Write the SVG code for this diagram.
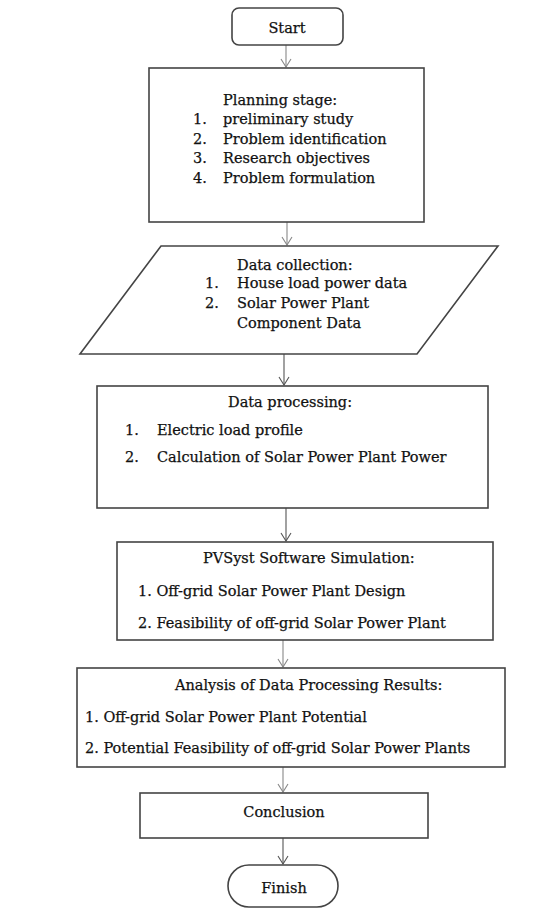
<svg xmlns="http://www.w3.org/2000/svg" width="550" height="909" viewBox="0 0 550 909">
<defs>
<marker id="arr" markerWidth="10" markerHeight="12" refX="9" refY="6" orient="auto" markerUnits="userSpaceOnUse" viewBox="0 0 10 12">
<path d="M1,1 L9,6 L1,11" fill="none" stroke="#555" stroke-width="1.1"/>
</marker>
<marker id="arrd" markerWidth="10" markerHeight="12" refX="9" refY="6" orient="auto" markerUnits="userSpaceOnUse" viewBox="0 0 10 12">
<path d="M1,1 L9,6 L1,11" fill="none" stroke="#888" stroke-width="1.1"/>
</marker>
</defs>
<style>
.box{fill:#fff;stroke:#444;stroke-width:1.6}
.t{font-family:"DejaVu Serif","Liberation Serif",serif;font-size:14.5px;fill:#111;stroke:#111;stroke-width:0.25}
.c{text-anchor:middle}
.ln{stroke:#555;stroke-width:1.1;fill:none}
.lg{stroke:#888;stroke-width:1.1;fill:none}
</style>
<rect width="550" height="909" fill="#fff"/>
<g id="connectors">
<line class="lg" x1="286" y1="45" x2="286" y2="67" marker-end="url(#arrd)"/>
<line class="lg" x1="287" y1="222" x2="287" y2="245" marker-end="url(#arrd)"/>
<line class="ln" x1="284" y1="354" x2="284" y2="385" marker-end="url(#arr)"/>
<line class="ln" x1="286" y1="508" x2="286" y2="541" marker-end="url(#arr)"/>
<line class="lg" x1="283" y1="640" x2="283" y2="667" marker-end="url(#arrd)"/>
<line class="lg" x1="283" y1="767" x2="283" y2="792" marker-end="url(#arrd)"/>
<line class="ln" x1="283" y1="838" x2="283" y2="864" marker-end="url(#arr)"/>
</g>
<g id="start">
<rect class="box" x="232" y="8" width="111" height="37" rx="7"/>
<text class="t c" x="287" y="33">Start</text>
</g>
<g id="planning">
<rect class="box" x="149" y="68" width="275" height="154"/>
<text class="t" x="223" y="105">Planning stage:</text>
<text class="t" x="193" y="124">1.</text><text class="t" x="223" y="124">preliminary study</text>
<text class="t" x="193" y="144">2.</text><text class="t" x="223" y="144">Problem identification</text>
<text class="t" x="193" y="163">3.</text><text class="t" x="223" y="163">Research objectives</text>
<text class="t" x="193" y="183">4.</text><text class="t" x="223" y="183">Problem formulation</text>
</g>
<g id="data-collection">
<polygon class="box" points="161,246 498,246 417,354 80,354"/>
<text class="t" x="237" y="270">Data collection:</text>
<text class="t" x="205" y="288">1.</text><text class="t" x="237" y="288">House load power data</text>
<text class="t" x="205" y="308">2.</text><text class="t" x="237" y="308">Solar Power Plant</text>
<text class="t" x="237" y="328">Component Data</text>
</g>
<g id="data-processing">
<rect class="box" x="97" y="386" width="391" height="122"/>
<text class="t" x="228" y="407">Data processing:</text>
<text class="t" x="125" y="435">1.</text><text class="t" x="157" y="435">Electric load profile</text>
<text class="t" x="125" y="462">2.</text><text class="t" x="157" y="462">Calculation of Solar Power Plant Power</text>
</g>
<g id="pvsyst">
<rect class="box" x="117" y="542" width="376" height="98"/>
<text class="t" x="203" y="563">PVSyst Software Simulation:</text>
<text class="t" x="138" y="596">1. Off-grid Solar Power Plant Design</text>
<text class="t" x="138" y="628">2. Feasibility of off-grid Solar Power Plant</text>
</g>
<g id="analysis">
<rect class="box" x="77" y="668" width="428" height="99"/>
<text class="t" x="175" y="690">Analysis of Data Processing Results:</text>
<text class="t" x="85" y="722">1. Off-grid Solar Power Plant Potential</text>
<text class="t" x="85" y="753">2. Potential Feasibility of off-grid Solar Power Plants</text>
</g>
<g id="conclusion">
<rect class="box" x="140" y="793" width="288" height="45"/>
<text class="t c" x="284" y="817">Conclusion</text>
</g>
<g id="finish">
<rect class="box" x="228" y="865" width="110" height="42" rx="21"/>
<text class="t c" x="284" y="893">Finish</text>
</g>
</svg>
